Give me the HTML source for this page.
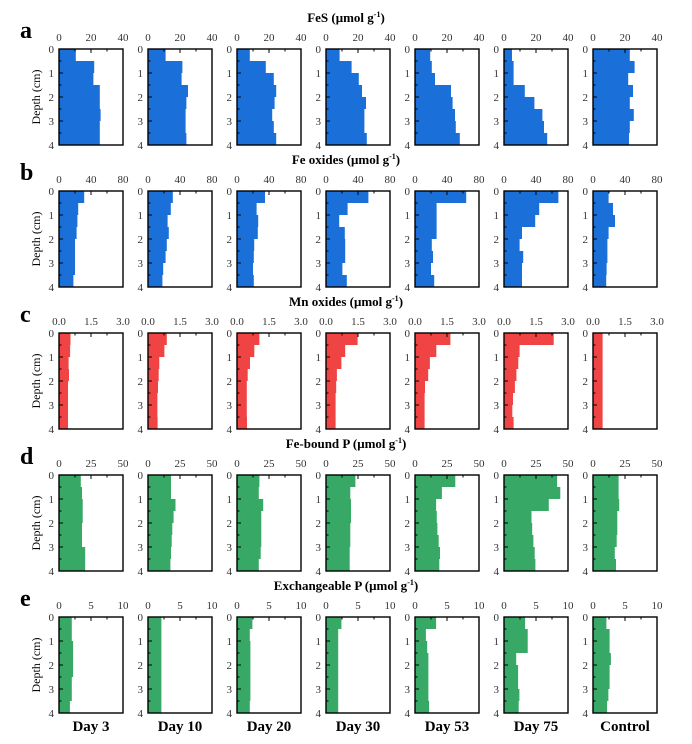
<!DOCTYPE html>
<html><head><meta charset="utf-8"><style>
html,body{margin:0;padding:0;background:#fff}
svg{display:block;font-family:"Liberation Serif",serif}
.t{font-size:11px;fill:#333}
.tl{text-anchor:middle}
.lr{text-anchor:end}
.ti{font-size:13px;font-weight:bold;text-anchor:middle}
.L{font-size:24px;font-weight:bold}
.D{font-size:15px;font-weight:bold;text-anchor:middle}
.ax{fill:none;stroke:#000;stroke-width:1.4}
.tk{stroke:#000;stroke-width:1}
</style></head><body>
<svg width="692" height="744" viewBox="0 0 692 744">
<defs>
<g id="box">
<path class="tk" d="M0,0v4M32,0v4M64,0v4M16,0v2.5M48,0v2.5M0,0h4M0,24h4M0,48h4M0,72h4M0,96h4M0,12h2.5M0,36h2.5M0,60h2.5M0,84h2.5"/>
<rect class="ax" x="0" y="0" width="64" height="96"/>
</g>
</defs>

<!-- titles -->
<text class="ti" x="346" y="22">FeS (μmol g<tspan dy="-5" font-size="8">-1</tspan><tspan dy="5">)</tspan></text>
<text class="ti" x="346" y="164">Fe oxides (μmol g<tspan dy="-5" font-size="8">-1</tspan><tspan dy="5">)</tspan></text>
<text class="ti" x="346" y="306">Mn oxides (μmol g<tspan dy="-5" font-size="8">-1</tspan><tspan dy="5">)</tspan></text>
<text class="ti" x="346" y="448">Fe-bound P (μmol g<tspan dy="-5" font-size="8">-1</tspan><tspan dy="5">)</tspan></text>
<text class="ti" x="346" y="590">Exchangeable P (μmol g<tspan dy="-5" font-size="8">-1</tspan><tspan dy="5">)</tspan></text>

<text class="L" x="20" y="38">a</text>
<text class="L" x="20" y="180">b</text>
<text class="L" x="20" y="322">c</text>
<text class="L" x="20" y="464">d</text>
<text class="L" x="20" y="606">e</text>

<!-- Depth labels -->
<g font-size="12" text-anchor="middle">
<text transform="translate(40,97) rotate(-90)">Depth (cm)</text>
<text transform="translate(40,239) rotate(-90)">Depth (cm)</text>
<text transform="translate(40,381) rotate(-90)">Depth (cm)</text>
<text transform="translate(40,523) rotate(-90)">Depth (cm)</text>
<text transform="translate(40,665) rotate(-90)">Depth (cm)</text>
</g>

<!-- ROW A -->
<g transform="translate(0,49)" fill="#1a6fd8">
<g transform="translate(59,0)"><path d="M0,0H16.8V12H35.2V24H34.4V36H40.8V48H40.8V60H41.6V72H40.8V84H40.8V96H0Z"/><use href="#box"/></g>
<g transform="translate(148,0)"><path d="M0,0H17.6V12H34.4V24H33.6V36H40V48H38.4V60H37.6V72H37.6V84H38.4V96H0Z"/><use href="#box"/></g>
<g transform="translate(237,0)"><path d="M0,0H12.8V12H28.8V24H36.8V36H39.2V48H37.6V60H35.2V72H36.8V84H39.2V96H0Z"/><use href="#box"/></g>
<g transform="translate(326,0)"><path d="M0,0H13.6V12H25.6V24H32.8V36H36V48H40V60H38.4V72H38.4V84H40.8V96H0Z"/><use href="#box"/></g>
<g transform="translate(415,0)"><path d="M0,0H15.2V12H16.8V24H20V36H36V48H37.6V60H40V72H40.8V84H44.8V96H0Z"/><use href="#box"/></g>
<g transform="translate(504,0)"><path d="M0,0H8V12H9.6V24H9.6V36H20.8V48H30.4V60H38.4V72H40V84H43.2V96H0Z"/><use href="#box"/></g>
<g transform="translate(593,0)"><path d="M0,0H36.8V12H41.6V24H35.2V36H40V48H36.8V60H40.8V72H36.8V84H36V96H0Z"/><use href="#box"/></g>
</g>
<!-- ROW B -->
<g transform="translate(0,191)" fill="#1a6fd8">
<g transform="translate(59,0)"><path d="M0,0H25.2V12H19.2V24H18.4V36H17.6V48H16V60H16V72H16V84H14.4V96H0Z"/><use href="#box"/></g>
<g transform="translate(148,0)"><path d="M0,0H24.8V12H22.8V24H19.6V36H20.8V48H18.8V60H17.6V72H15.2V84H14.4V96H0Z"/><use href="#box"/></g>
<g transform="translate(237,0)"><path d="M0,0H28V12H19.6V24H21.2V36H20.8V48H17.2V60H16.8V72H16V84H16.8V96H0Z"/><use href="#box"/></g>
<g transform="translate(326,0)"><path d="M0,0H42.4V12H21.6V24H13.2V36H18.8V48H19.2V60H19.2V72H16.4V84H20.8V96H0Z"/><use href="#box"/></g>
<g transform="translate(415,0)"><path d="M0,0H51.2V12H21.6V24H21.6V36H21.6V48H16.8V60H18V72H16V84H19.2V96H0Z"/><use href="#box"/></g>
<g transform="translate(504,0)"><path d="M0,0H54.4V12H35.2V24H31.2V36H18V48H15.6V60H19.2V72H18V84H18V96H0Z"/><use href="#box"/></g>
<g transform="translate(593,0)"><path d="M0,0H15.6V12H20V24H22V36H15.6V48H14.4V60H14.4V72H13.6V84H13.2V96H0Z"/><use href="#box"/></g>
</g>
<!-- ROW C -->
<g transform="translate(0,333)" fill="#f04444">
<g transform="translate(59,0)"><path d="M0,0H11.5V12H11.1V24H9.6V36H10V48H9V96H0Z"/><use href="#box"/></g>
<g transform="translate(148,0)"><path d="M0,0H18.8V12H16.4V24H11.3V36H10.7V48H10V60H9.4V84H9.6V96H0Z"/><use href="#box"/></g>
<g transform="translate(237,0)"><path d="M0,0H22.4V12H17.3V24H13V36H10.7V48H9.8V84H10V96H0Z"/><use href="#box"/></g>
<g transform="translate(326,0)"><path d="M0,0H31.6V12H19.2V24H15.4V36H10.9V48H10.2V60H9.6V96H0Z"/><use href="#box"/></g>
<g transform="translate(415,0)"><path d="M0,0H35.4V12H21.3V24H14.9V36H13.2V48H10V60H9.6V96H0Z"/><use href="#box"/></g>
<g transform="translate(504,0)"><path d="M0,0H49.7V12H15.6V24H14.3V36H12.4V48H10.9V60H9V72H8.3V84H9.6V96H0Z"/><use href="#box"/></g>
<g transform="translate(593,0)"><path d="M0,0H9.6V96H0Z"/><use href="#box"/></g>
</g>
<!-- ROW D -->
<g transform="translate(0,475)" fill="#37a866">
<g transform="translate(59,0)"><path d="M0,0H21.8V12H23V24H23.7V36H23.7V48H23V60H23V72H26.2V84H26.2V96H0Z"/><use href="#box"/></g>
<g transform="translate(148,0)"><path d="M0,0H23V12H23V24H27.5V36H25.6V48H24.3V60H23.7V72H23V84H22.4V96H0Z"/><use href="#box"/></g>
<g transform="translate(237,0)"><path d="M0,0H22.4V12H21.8V24H26.2V36H24.3V48H24.3V60H24.3V72H23.7V84H21.8V96H0Z"/><use href="#box"/></g>
<g transform="translate(326,0)"><path d="M0,0H29.4V12H24.3V24H25V36H25V48H24.3V60H24.3V72H23.7V84H23.7V96H0Z"/><use href="#box"/></g>
<g transform="translate(415,0)"><path d="M0,0H40.3V12H26.9V24H21.1V36H21.8V48H22.4V60H23.7V72H25V84H24.3V96H0Z"/><use href="#box"/></g>
<g transform="translate(504,0)"><path d="M0,0H53.1V12H56.3V24H44.8V36H27.5V48H28.2V60H29.4V72H30.7V84H31.4V96H0Z"/><use href="#box"/></g>
<g transform="translate(593,0)"><path d="M0,0H25.6V12H25.6V24H26.2V36H24.3V48H24.3V60H23.7V72H21.8V84H23V96H0Z"/><use href="#box"/></g>
</g>
<!-- ROW E -->
<g transform="translate(0,617)" fill="#37a866">
<g transform="translate(59,0)"><path d="M0,0H12.8V24H14.1V60H12.8V84H10.9V96H0Z"/><use href="#box"/></g>
<g transform="translate(148,0)"><path d="M0,0H13.4V96H0Z"/><use href="#box"/></g>
<g transform="translate(237,0)"><path d="M0,0H15.4V12H12.8V24H13.4V84H12.8V96H0Z"/><use href="#box"/></g>
<g transform="translate(326,0)"><path d="M0,0H15.4V12H12.2V96H0Z"/><use href="#box"/></g>
<g transform="translate(415,0)"><path d="M0,0H21.1V12H10.9V24H12.2V36H13.4V84H14.1V96H0Z"/><use href="#box"/></g>
<g transform="translate(504,0)"><path d="M0,0H21.1V12H23.7V36H12.2V48H14.1V72H15.4V84H14.7V96H0Z"/><use href="#box"/></g>
<g transform="translate(593,0)"><path d="M0,0H13.4V12H16.6V36H17.9V48H16.6V72H15.4V84H14.1V96H0Z"/><use href="#box"/></g>
</g>

<!-- Tick labels: top -->
<g class="t tl">
<!-- row a y=41 -->
<text x="59" y="41">0</text><text x="91" y="41">20</text><text x="123" y="41">40</text>
<text x="148" y="41">0</text><text x="180" y="41">20</text><text x="212" y="41">40</text>
<text x="237" y="41">0</text><text x="269" y="41">20</text><text x="301" y="41">40</text>
<text x="326" y="41">0</text><text x="358" y="41">20</text><text x="390" y="41">40</text>
<text x="415" y="41">0</text><text x="447" y="41">20</text><text x="479" y="41">40</text>
<text x="504" y="41">0</text><text x="536" y="41">20</text><text x="568" y="41">40</text>
<text x="593" y="41">0</text><text x="625" y="41">20</text><text x="657" y="41">40</text>
<!-- row b y=183 -->
<text x="59" y="183">0</text><text x="91" y="183">40</text><text x="123" y="183">80</text>
<text x="148" y="183">0</text><text x="180" y="183">40</text><text x="212" y="183">80</text>
<text x="237" y="183">0</text><text x="269" y="183">40</text><text x="301" y="183">80</text>
<text x="326" y="183">0</text><text x="358" y="183">40</text><text x="390" y="183">80</text>
<text x="415" y="183">0</text><text x="447" y="183">40</text><text x="479" y="183">80</text>
<text x="504" y="183">0</text><text x="536" y="183">40</text><text x="568" y="183">80</text>
<text x="593" y="183">0</text><text x="625" y="183">40</text><text x="657" y="183">80</text>
<!-- row c y=325 -->
<text x="59" y="325">0.0</text><text x="91" y="325">1.5</text><text x="123" y="325">3.0</text>
<text x="148" y="325">0.0</text><text x="180" y="325">1.5</text><text x="212" y="325">3.0</text>
<text x="237" y="325">0.0</text><text x="269" y="325">1.5</text><text x="301" y="325">3.0</text>
<text x="326" y="325">0.0</text><text x="358" y="325">1.5</text><text x="390" y="325">3.0</text>
<text x="415" y="325">0.0</text><text x="447" y="325">1.5</text><text x="479" y="325">3.0</text>
<text x="504" y="325">0.0</text><text x="536" y="325">1.5</text><text x="568" y="325">3.0</text>
<text x="593" y="325">0.0</text><text x="625" y="325">1.5</text><text x="657" y="325">3.0</text>
<!-- row d y=467 -->
<text x="59" y="467">0</text><text x="91" y="467">25</text><text x="123" y="467">50</text>
<text x="148" y="467">0</text><text x="180" y="467">25</text><text x="212" y="467">50</text>
<text x="237" y="467">0</text><text x="269" y="467">25</text><text x="301" y="467">50</text>
<text x="326" y="467">0</text><text x="358" y="467">25</text><text x="390" y="467">50</text>
<text x="415" y="467">0</text><text x="447" y="467">25</text><text x="479" y="467">50</text>
<text x="504" y="467">0</text><text x="536" y="467">25</text><text x="568" y="467">50</text>
<text x="593" y="467">0</text><text x="625" y="467">25</text><text x="657" y="467">50</text>
<!-- row e y=609 -->
<text x="59" y="609">0</text><text x="91" y="609">5</text><text x="123" y="609">10</text>
<text x="148" y="609">0</text><text x="180" y="609">5</text><text x="212" y="609">10</text>
<text x="237" y="609">0</text><text x="269" y="609">5</text><text x="301" y="609">10</text>
<text x="326" y="609">0</text><text x="358" y="609">5</text><text x="390" y="609">10</text>
<text x="415" y="609">0</text><text x="447" y="609">5</text><text x="479" y="609">10</text>
<text x="504" y="609">0</text><text x="536" y="609">5</text><text x="568" y="609">10</text>
<text x="593" y="609">0</text><text x="625" y="609">5</text><text x="657" y="609">10</text>
</g>

<!-- Left tick labels -->
<g class="t lr">
<g transform="translate(54,53)"><text y="0">0</text><text y="24">1</text><text y="48">2</text><text y="72">3</text><text y="96">4</text></g>
<g transform="translate(143,53)"><text y="0">0</text><text y="24">1</text><text y="48">2</text><text y="72">3</text><text y="96">4</text></g>
<g transform="translate(232,53)"><text y="0">0</text><text y="24">1</text><text y="48">2</text><text y="72">3</text><text y="96">4</text></g>
<g transform="translate(321,53)"><text y="0">0</text><text y="24">1</text><text y="48">2</text><text y="72">3</text><text y="96">4</text></g>
<g transform="translate(410,53)"><text y="0">0</text><text y="24">1</text><text y="48">2</text><text y="72">3</text><text y="96">4</text></g>
<g transform="translate(499,53)"><text y="0">0</text><text y="24">1</text><text y="48">2</text><text y="72">3</text><text y="96">4</text></g>
<g transform="translate(588,53)"><text y="0">0</text><text y="24">1</text><text y="48">2</text><text y="72">3</text><text y="96">4</text></g>

<g transform="translate(54,195)"><text y="0">0</text><text y="24">1</text><text y="48">2</text><text y="72">3</text><text y="96">4</text></g>
<g transform="translate(143,195)"><text y="0">0</text><text y="24">1</text><text y="48">2</text><text y="72">3</text><text y="96">4</text></g>
<g transform="translate(232,195)"><text y="0">0</text><text y="24">1</text><text y="48">2</text><text y="72">3</text><text y="96">4</text></g>
<g transform="translate(321,195)"><text y="0">0</text><text y="24">1</text><text y="48">2</text><text y="72">3</text><text y="96">4</text></g>
<g transform="translate(410,195)"><text y="0">0</text><text y="24">1</text><text y="48">2</text><text y="72">3</text><text y="96">4</text></g>
<g transform="translate(499,195)"><text y="0">0</text><text y="24">1</text><text y="48">2</text><text y="72">3</text><text y="96">4</text></g>
<g transform="translate(588,195)"><text y="0">0</text><text y="24">1</text><text y="48">2</text><text y="72">3</text><text y="96">4</text></g>

<g transform="translate(54,337)"><text y="0">0</text><text y="24">1</text><text y="48">2</text><text y="72">3</text><text y="96">4</text></g>
<g transform="translate(143,337)"><text y="0">0</text><text y="24">1</text><text y="48">2</text><text y="72">3</text><text y="96">4</text></g>
<g transform="translate(232,337)"><text y="0">0</text><text y="24">1</text><text y="48">2</text><text y="72">3</text><text y="96">4</text></g>
<g transform="translate(321,337)"><text y="0">0</text><text y="24">1</text><text y="48">2</text><text y="72">3</text><text y="96">4</text></g>
<g transform="translate(410,337)"><text y="0">0</text><text y="24">1</text><text y="48">2</text><text y="72">3</text><text y="96">4</text></g>
<g transform="translate(499,337)"><text y="0">0</text><text y="24">1</text><text y="48">2</text><text y="72">3</text><text y="96">4</text></g>
<g transform="translate(588,337)"><text y="0">0</text><text y="24">1</text><text y="48">2</text><text y="72">3</text><text y="96">4</text></g>

<g transform="translate(54,479)"><text y="0">0</text><text y="24">1</text><text y="48">2</text><text y="72">3</text><text y="96">4</text></g>
<g transform="translate(143,479)"><text y="0">0</text><text y="24">1</text><text y="48">2</text><text y="72">3</text><text y="96">4</text></g>
<g transform="translate(232,479)"><text y="0">0</text><text y="24">1</text><text y="48">2</text><text y="72">3</text><text y="96">4</text></g>
<g transform="translate(321,479)"><text y="0">0</text><text y="24">1</text><text y="48">2</text><text y="72">3</text><text y="96">4</text></g>
<g transform="translate(410,479)"><text y="0">0</text><text y="24">1</text><text y="48">2</text><text y="72">3</text><text y="96">4</text></g>
<g transform="translate(499,479)"><text y="0">0</text><text y="24">1</text><text y="48">2</text><text y="72">3</text><text y="96">4</text></g>
<g transform="translate(588,479)"><text y="0">0</text><text y="24">1</text><text y="48">2</text><text y="72">3</text><text y="96">4</text></g>

<g transform="translate(54,621)"><text y="0">0</text><text y="24">1</text><text y="48">2</text><text y="72">3</text><text y="96">4</text></g>
<g transform="translate(143,621)"><text y="0">0</text><text y="24">1</text><text y="48">2</text><text y="72">3</text><text y="96">4</text></g>
<g transform="translate(232,621)"><text y="0">0</text><text y="24">1</text><text y="48">2</text><text y="72">3</text><text y="96">4</text></g>
<g transform="translate(321,621)"><text y="0">0</text><text y="24">1</text><text y="48">2</text><text y="72">3</text><text y="96">4</text></g>
<g transform="translate(410,621)"><text y="0">0</text><text y="24">1</text><text y="48">2</text><text y="72">3</text><text y="96">4</text></g>
<g transform="translate(499,621)"><text y="0">0</text><text y="24">1</text><text y="48">2</text><text y="72">3</text><text y="96">4</text></g>
<g transform="translate(588,621)"><text y="0">0</text><text y="24">1</text><text y="48">2</text><text y="72">3</text><text y="96">4</text></g>
</g>

<!-- Day labels -->
<text class="D" x="91" y="731">Day 3</text>
<text class="D" x="180" y="731">Day 10</text>
<text class="D" x="269" y="731">Day 20</text>
<text class="D" x="358" y="731">Day 30</text>
<text class="D" x="447" y="731">Day 53</text>
<text class="D" x="536" y="731">Day 75</text>
<text class="D" x="625" y="731">Control</text>
</svg>
</body></html>
